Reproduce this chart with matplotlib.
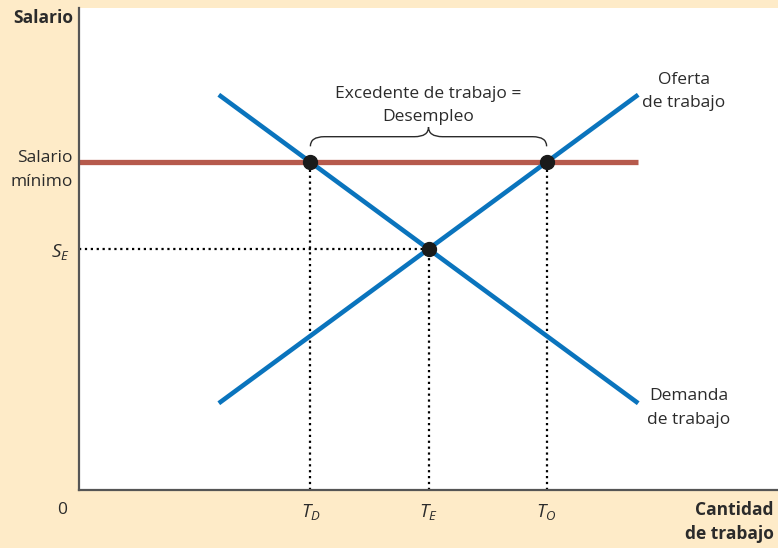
import matplotlib
matplotlib.use('Agg')
import matplotlib.pyplot as plt
from matplotlib.path import Path
from matplotlib.patches import PathPatch

plt.rcParams['font.family'] = ['Open Sans', 'DejaVu Sans']
plt.rcParams['mathtext.fontset'] = 'custom'
plt.rcParams['mathtext.it'] = 'Open Sans:italic'
plt.rcParams['mathtext.rm'] = 'Open Sans'

# curves (data units 0..100)
curve_x = [20, 80]
supply_y = [18, 82]
demand_y = [82, 18]
min_wage = 68
min_wage_end = 80
eq_x, eq_y = 50, 50
x_D, x_O = 33.1, 66.9
x_ticks = [x_D, eq_x, x_O]
x_labels = [r'$T_D$', r'$T_E$', r'$T_O$']

blue = '#0a74bd'
red = '#b65a4c'
cream = '#feebc8'
text_c = '#2b2b2b'
fs = 12.5
ls_ = 1.6

fig = plt.figure(figsize=(7.78, 5.48), dpi=100, facecolor=cream)
ax = fig.add_axes([79 / 778, 58 / 548, 699 / 778, 482 / 548])
ax.set_xlim(0, 100)
ax.set_ylim(0, 100)
ax.set_facecolor('white')
for s in ['top', 'right']:
    ax.spines[s].set_visible(False)
for s in ['left', 'bottom']:
    ax.spines[s].set_color('#555555')
    ax.spines[s].set_linewidth(1.6)

ax.set_xticks(x_ticks)
ax.set_xticklabels(x_labels, fontsize=fs + 1, color=text_c)
ax.set_yticks([eq_y])
ax.set_yticklabels([r'$S_E$'], fontsize=fs + 1, color=text_c)
ax.tick_params(length=0, pad=7)
ax.tick_params(axis='x', pad=9)

# dotted guides
for xv, yv in [(x_D, min_wage), (eq_x, eq_y), (x_O, min_wage)]:
    ax.plot([xv, xv], [0, yv], ls=':', color='black', lw=1.6, zorder=1)
ax.plot([0, eq_x], [eq_y, eq_y], ls=':', color='black', lw=1.6, zorder=1)

ax.plot([0, min_wage_end], [min_wage, min_wage], color=red, lw=3.8, zorder=2, solid_capstyle='butt')
ax.plot(curve_x, demand_y, color=blue, lw=3.3, zorder=3, solid_capstyle='butt')
ax.plot(curve_x, supply_y, color=blue, lw=3.3, zorder=3, solid_capstyle='butt')
ax.plot([x_D, eq_x, x_O], [min_wage, eq_y, min_wage], 'o', color='#1a1a1a', ms=10, zorder=4)

# brace
mid = (x_D + x_O) / 2
y0, y1, y2 = 71.3, 73.3, 75.3
verts = [(x_D, y0), (x_D, y1), (x_D + 2, y1), (mid - 2, y1), (mid, y1), (mid, y2),
         (mid, y1), (mid + 2, y1), (x_O - 2, y1), (x_O, y1), (x_O, y0)]
codes = [Path.MOVETO, Path.CURVE3, Path.CURVE3, Path.LINETO, Path.CURVE3, Path.CURVE3,
         Path.CURVE3, Path.CURVE3, Path.LINETO, Path.CURVE3, Path.CURVE3]
ax.add_patch(PathPatch(Path(verts, codes), fill=False, color=text_c, lw=1.0))

ax.text(mid, 79.7, 'Excedente de trabajo =\nDesempleo', ha='center', va='center',
        fontsize=fs, color=text_c, linespacing=ls_)
ax.text(86.5, 82.6, 'Oferta\nde trabajo', ha='center', va='center', fontsize=fs,
        color=text_c, linespacing=ls_)
ax.text(87.2, 17.0, 'Demanda\nde trabajo', ha='center', va='center', fontsize=fs,
        color=text_c, linespacing=ls_)

fig.text(73 / 778, 1 - 18 / 548, 'Salario', ha='right', va='center', fontsize=fs,
         fontweight='bold', color=text_c)
fig.text(73 / 778, 1 - 170 / 548, 'Salario\nmínimo', ha='right', va='center', fontsize=fs,
         color=text_c, linespacing=ls_)
fig.text(62 / 778, 1 - 510 / 548, '0', ha='center', va='center', fontsize=fs, color=text_c)
fig.text(774 / 778, 1 - 522 / 548, 'Cantidad\nde trabajo', ha='right', va='center',
         fontsize=fs, fontweight='bold', color=text_c, linespacing=1.45)

fig.savefig('out.png', dpi=100, facecolor=cream)
